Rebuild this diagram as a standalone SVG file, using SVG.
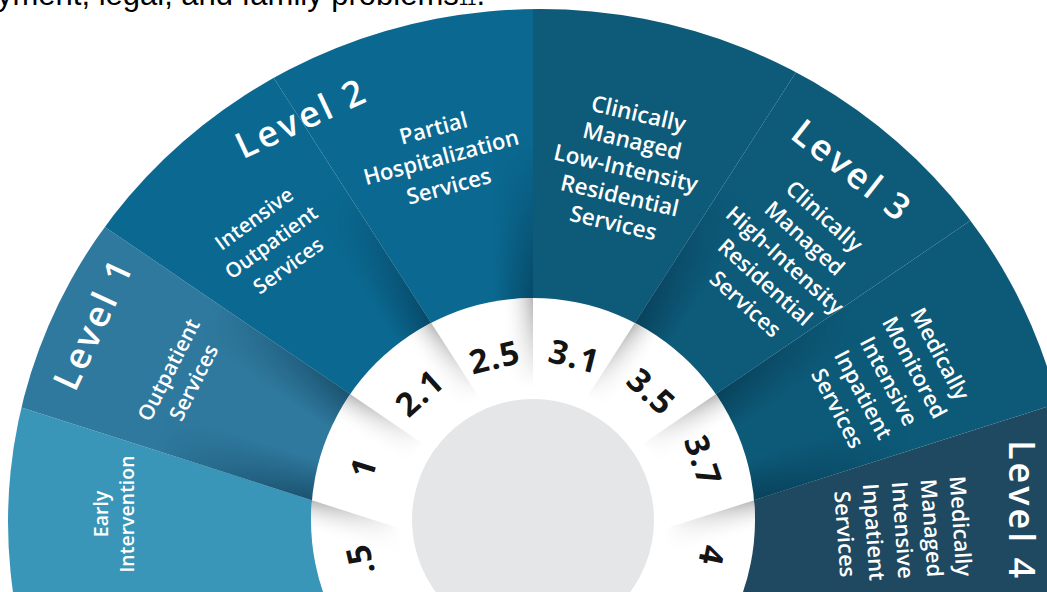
<svg xmlns="http://www.w3.org/2000/svg" width="1047" height="592" viewBox="0 0 1047 592">
<style>
  .lbl{font-family:"Open Sans","Noto Sans","DejaVu Sans",sans-serif;font-weight:600;fill:#fff;text-anchor:middle}
  .lvl{font-family:"Open Sans","Noto Sans","DejaVu Sans",sans-serif;font-weight:600;font-size:36px;fill:#fff;text-anchor:middle;letter-spacing:3px}
  .num{font-family:"Open Sans","Noto Sans","DejaVu Sans",sans-serif;font-weight:700;font-size:33px;fill:#141414;text-anchor:middle;letter-spacing:1.5px}
  .cap{font-family:"Liberation Sans",Arial,sans-serif;font-size:31px;fill:#000}
</style>
<defs>
  <clipPath id="fanClip"><ellipse cx="540" cy="522" rx="532" ry="513"/></clipPath>
  <clipPath id="ringClip"><circle cx="533" cy="520" r="222"/></clipPath>

  <!-- soft grey fold shading inside the white ring -->
  <linearGradient id="wsBase"><stop offset="0" stop-color="#b0b0b0" stop-opacity="0.9"/><stop offset="1" stop-color="#ffffff" stop-opacity="0"/></linearGradient>
  <linearGradient id="ws1" href="#wsBase" gradientUnits="userSpaceOnUse" x1="311" y1="500" x2="301.9" y2="528.6"/>
  <linearGradient id="ws2" href="#wsBase" gradientUnits="userSpaceOnUse" x1="347" y1="392" x2="330.1" y2="416.8"/>
  <linearGradient id="ws3" href="#wsBase" gradientUnits="userSpaceOnUse" x1="430" y1="321" x2="404.8" y2="337.2"/>
  <linearGradient id="ws4" href="#wsBase" gradientUnits="userSpaceOnUse" x1="533" y1="298" x2="503" y2="298"/>
  <linearGradient id="ws5" href="#wsBase" gradientUnits="userSpaceOnUse" x1="636" y1="321" x2="661.2" y2="337.2"/>
  <linearGradient id="ws6" href="#wsBase" gradientUnits="userSpaceOnUse" x1="719" y1="392" x2="735.9" y2="416.8"/>
  <linearGradient id="ws7" href="#wsBase" gradientUnits="userSpaceOnUse" x1="755" y1="500" x2="764.1" y2="528.6"/>

  <!-- dark fold shading on the coloured segments -->
  <linearGradient id="bsBase"><stop offset="0" stop-color="#04263a" stop-opacity="0.5"/><stop offset="1" stop-color="#04263a" stop-opacity="0"/></linearGradient>
  <linearGradient id="bs1" href="#bsBase" gradientUnits="userSpaceOnUse" x1="311" y1="500" x2="323.2" y2="461.9"/>
  <linearGradient id="bs2" href="#bsBase" gradientUnits="userSpaceOnUse" x1="347" y1="392" x2="324.5" y2="425"/>
  <linearGradient id="bs3" href="#bsBase" gradientUnits="userSpaceOnUse" x1="430" y1="321" x2="396.4" y2="342.6"/>
  <linearGradient id="bs4" href="#bsBase" gradientUnits="userSpaceOnUse" x1="533" y1="298" x2="493" y2="298"/>
  <linearGradient id="bs5" href="#bsBase" gradientUnits="userSpaceOnUse" x1="636" y1="321" x2="669.6" y2="342.6"/>
  <linearGradient id="bs6" href="#bsBase" gradientUnits="userSpaceOnUse" x1="719" y1="392" x2="741.5" y2="425"/>
  <linearGradient id="bs7" href="#bsBase" gradientUnits="userSpaceOnUse" x1="755" y1="500" x2="742.8" y2="461.9"/>

  <radialGradient id="fadeOut" cx="533" cy="520" r="480" gradientUnits="userSpaceOnUse">
    <stop offset="0.44" stop-color="#fff"/><stop offset="0.8" stop-color="#000"/>
  </radialGradient>
  <mask id="shadeMask" maskUnits="userSpaceOnUse" x="0" y="0" width="1047" height="592">
    <rect width="1047" height="592" fill="url(#fadeOut)"/>
  </mask>
  <radialGradient id="ringFade" cx="533" cy="520" r="222" gradientUnits="userSpaceOnUse">
    <stop offset="0.6" stop-color="#fff" stop-opacity="1"/><stop offset="1" stop-color="#fff" stop-opacity="0"/>
  </radialGradient>
</defs>

<rect width="1047" height="592" fill="#fff"/>

<!-- running text above the chart, cropped by the frame -->
<text class="cap" x="-3" y="4.5">yment, legal, and family problems<tspan font-size="17">11</tspan>.</text>

<!-- coloured segments of the fan -->
<g id="segments" clip-path="url(#fanClip)">
  <polygon id="seg-early" fill="#3a96b8" points="533,520 368,518 -266,316 -266,700 533,700"/>
  <polygon id="seg-outpatient" fill="#2f799e" points="533,520 368,518 -266,316 -143,58 397,426"/>
  <polygon id="seg-intensive-outpatient" fill="#0b6991" points="533,520 397,426 -143,58 115,-169 462,371"/>
  <polygon id="seg-partial" fill="#0b6991" points="533,520 462,371 115,-169 533,-300 533,380"/>
  <polygon id="seg-low-intensity" fill="#0d5a79" points="533,520 533,380 533,-300 951,-169 604,371"/>
  <polygon id="seg-high-intensity" fill="#0d5a79" points="533,520 604,371 951,-169 1209,58 669,426"/>
  <polygon id="seg-monitored" fill="#0d5a78" points="533,520 669,426 1209,58 1332,316 698,518"/>
  <polygon id="seg-managed" fill="#1e4960" points="533,520 698,518 1332,316 1332,700 533,700"/>
  <g id="segment-shading" mask="url(#shadeMask)">
    <polygon fill="url(#bs1)" points="320.5,503 6.4,402.7 20.1,359.9 334.2,460.2"/>
    <polygon fill="url(#bs2)" points="355.3,397.6 82.7,211.8 57.4,249 330,434.8"/>
    <polygon fill="url(#bs3)" points="435.4,329.4 256.9,51.9 219.1,76.2 397.6,353.7"/>
    <polygon fill="url(#bs4)" points="533,308 533,-22 488,-22 488,308"/>
    <polygon fill="url(#bs5)" points="630.6,329.4 809.1,51.9 846.9,76.2 668.4,353.7"/>
    <polygon fill="url(#bs6)" points="710.7,397.6 983.3,211.8 1008.6,249 736,434.8"/>
    <polygon fill="url(#bs7)" points="745.5,503 1059.6,402.7 1045.9,359.9 731.8,460.2"/>
  </g>
</g>

<!-- white level ring with grey hub -->
<g id="ring">
  <circle cx="533" cy="520" r="222" fill="#fff"/>
  <g clip-path="url(#ringClip)">
    <polygon fill="url(#ws1)" points="296.7,495.4 453.8,545.6 444.1,576.1 287,525.9"/>
    <polygon fill="url(#ws2)" points="334.6,383.6 470.9,476.5 452.9,502.9 316.6,410"/>
    <polygon fill="url(#ws3)" points="421.9,308.4 511.2,447.2 484.3,464.5 395,325.7"/>
    <polygon fill="url(#ws4)" points="533,283 533,448 501,448 501,283"/>
    <polygon fill="url(#ws5)" points="644.1,308.4 554.8,447.2 581.7,464.5 671,325.7"/>
    <polygon fill="url(#ws6)" points="731.4,383.6 595.1,476.5 613.1,502.9 749.4,410"/>
    <polygon fill="url(#ws7)" points="769.3,495.4 612.2,545.6 621.9,576.1 779,525.9"/>
  </g>
  <circle cx="533" cy="520" r="222" fill="url(#ringFade)"/>
  <circle id="hub" cx="533" cy="520" r="121" fill="#e4e6e8"/>
</g>

<!-- level headings -->
<g id="level-1" transform="translate(93,325) rotate(-65)"><text class="lvl" x="1.5" y="12.5">Level 1</text></g>
<g id="level-2" transform="translate(300,119) rotate(-25)"><text class="lvl" x="1.5" y="12.5">Level 2</text></g>
<g id="level-3" transform="translate(851,170) rotate(38)"><text class="lvl" x="1.5" y="12.5">Level 3</text></g>
<g id="level-4" transform="translate(1021,509) rotate(90)"><text class="lvl" x="1.5" y="12.5">Level 4</text></g>

<!-- service labels -->
<g id="svc-early" transform="translate(114,514) rotate(-90)">
  <text class="lbl" font-size="19.5"><tspan x="0" y="-6">Early</tspan><tspan x="0" y="20">Intervention</tspan></text>
</g>
<g id="svc-outpatient" transform="translate(181,376) rotate(-63)">
  <text class="lbl" font-size="21"><tspan x="0" y="-6.4">Outpatient</tspan><tspan x="0" y="21.6">Services</tspan></text>
</g>
<g id="svc-intensive-outpatient" transform="translate(271,242) rotate(-36)">
  <text class="lbl" font-size="20.5"><tspan x="0" y="-21.6">Intensive</tspan><tspan x="0" y="7.4">Outpatient</tspan><tspan x="0" y="36.4">Services</tspan></text>
</g>
<g id="svc-partial" transform="translate(441,157) rotate(-15)">
  <text class="lbl" font-size="22"><tspan x="0" y="-22.1">Partial</tspan><tspan x="0" y="7.9">Hospitalization</tspan><tspan x="0" y="37.9">Services</tspan></text>
</g>
<g id="svc-low-intensity" transform="translate(626,168) rotate(13)">
  <text class="lbl" font-size="22.5"><tspan x="0" y="-47.9">Clinically</tspan><tspan x="0" y="-19.9">Managed</tspan><tspan x="0" y="8.1">Low-Intensity</tspan><tspan x="0" y="36.1">Residential</tspan><tspan x="0" y="64.1">Services</tspan></text>
</g>
<g id="svc-high-intensity" transform="translate(785,260) rotate(42)">
  <text class="lbl" font-size="22"><tspan x="0" y="-51.1">Clinically</tspan><tspan x="0" y="-21.6">Managed</tspan><tspan x="0" y="7.9">High-Intensity</tspan><tspan x="0" y="37.4">Residential</tspan><tspan x="0" y="66.9">Services</tspan></text>
</g>
<g id="svc-monitored" transform="translate(889,381) rotate(62)">
  <text class="lbl" font-size="22"><tspan x="0" y="-50.1">Medically</tspan><tspan x="0" y="-21.1">Monitored</tspan><tspan x="0" y="7.9">Intensive</tspan><tspan x="0" y="36.9">Inpatient</tspan><tspan x="0" y="65.9">Services</tspan></text>
</g>
<g id="svc-managed" transform="translate(903,530) rotate(86)">
  <text class="lbl" font-size="22"><tspan x="0" y="-50.1">Medically</tspan><tspan x="0" y="-21.1">Managed</tspan><tspan x="0" y="7.9">Intensive</tspan><tspan x="0" y="36.9">Inpatient</tspan><tspan x="0" y="65.9">Services</tspan></text>
</g>

<!-- level numbers on the ring -->
<g id="num-05" transform="translate(360,560) rotate(-103)"><text class="num" x="0.75" y="12">.5</text></g>
<g id="num-1" transform="translate(363,468) rotate(-73)"><text class="num" x="0.75" y="12">1</text></g>
<g id="num-21" transform="translate(419,393) rotate(-42)"><text class="num" x="0.75" y="12">2.1</text></g>
<g id="num-25" transform="translate(494,357) rotate(-13.5)"><text class="num" x="0.75" y="12">2.5</text></g>
<g id="num-31" transform="translate(574,356) rotate(14)"><text class="num" x="0.75" y="12">3.1</text></g>
<g id="num-35" transform="translate(651,391) rotate(42.5)"><text class="num" x="0.75" y="12">3.5</text></g>
<g id="num-37" transform="translate(703,460) rotate(71)"><text class="num" x="0.75" y="12">3.7</text></g>
<g id="num-4" transform="translate(712,555) rotate(101)"><text class="num" x="0.75" y="12">4</text></g>
</svg>
